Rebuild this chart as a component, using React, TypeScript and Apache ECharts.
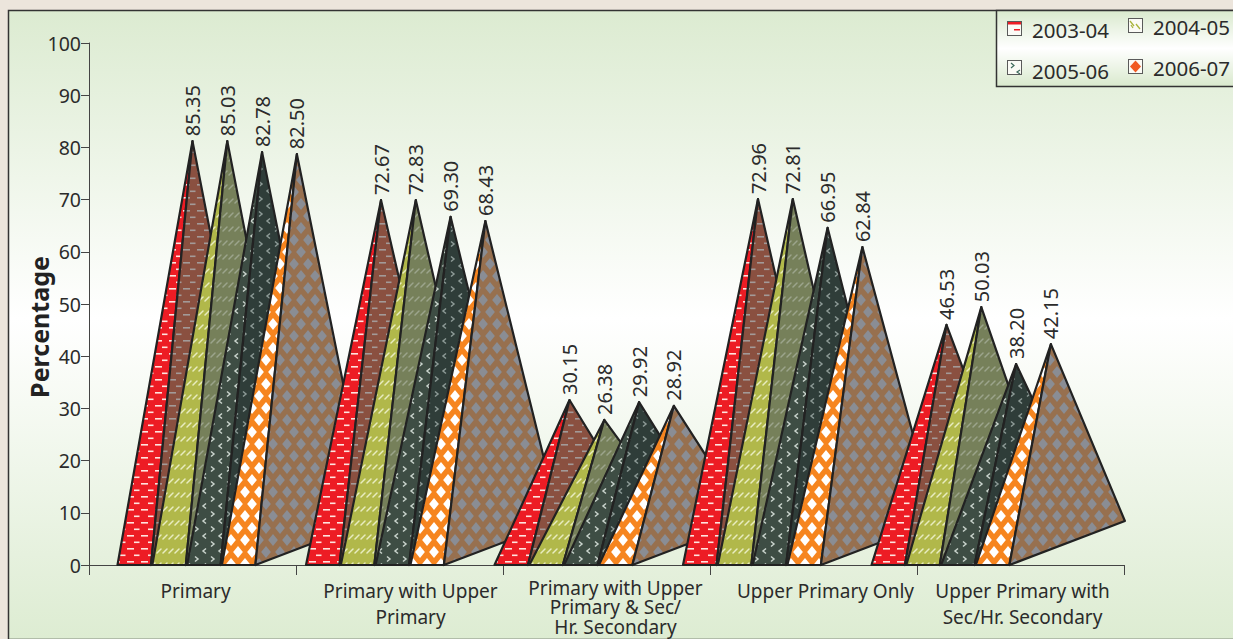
import React, { useEffect, useRef } from "react";
import * as echarts from "echarts";

const categories = [
  "Primary",
  "Primary with Upper\nPrimary",
  "Primary with Upper\nPrimary & Sec/\nHr. Secondary",
  "Upper Primary Only",
  "Upper Primary with\nSec/Hr. Secondary",
];
const labelShift = [6, 22, 18, 24, 4];
const years = ["2003-04", "2004-05", "2005-06", "2006-07"];
const yTicks = { min: 0, max: 100, interval: 10 };

// Printed values
const printed2003 = ["85.35", "72.67", "30.15", "72.96", "46.53"];
const printed2004 = ["85.03", "72.83", "26.38", "72.81", "50.03"];
const printed2005 = ["82.78", "69.30", "29.92", "66.95", "38.20"];
const printed2006 = ["82.50", "68.43", "28.92", "62.84", "42.15"];

// Apex heights as read against the axis in the picture
const apex2003 = [81.2, 69.9, 31.6, 70.1, 46.0];
const apex2004 = [81.2, 69.9, 27.8, 70.1, 49.4];
const apex2005 = [79.1, 66.7, 31.2, 64.6, 38.5];
const apex2006 = [78.7, 65.9, 30.5, 60.9, 42.3];

const printed = [printed2003, printed2004, printed2005, printed2006];
const apex = [apex2003, apex2004, apex2005, apex2006];

const FONT = '"Noto Sans", "Open Sans", sans-serif';
const INK = "#2b2b2b";

function tile(w: number, h: number, bg: string, draw: (c: CanvasRenderingContext2D) => void) {
  const cv = document.createElement("canvas");
  cv.width = w;
  cv.height = h;
  const c = cv.getContext("2d")!;
  c.fillStyle = bg;
  c.fillRect(0, 0, w, h);
  draw(c);
  return { image: cv.toDataURL(), imageWidth: w, imageHeight: h, repeat: "repeat" };
}
const dashes = (bg: string, fg: string) =>
  tile(14, 13, bg, (c) => {
    c.fillStyle = fg;
    c.fillRect(1, 2, 7, 1.6);
    c.fillRect(8, 8.5, 5.5, 1.6);
  });
const diagonals = (bg: string, fg: string) =>
  tile(12, 14, bg, (c) => {
    c.strokeStyle = fg;
    c.lineWidth = 1.5;
    c.lineCap = "round";
    c.beginPath();
    c.moveTo(1, 7);
    c.lineTo(5, 3);
    c.moveTo(7, 7);
    c.lineTo(11, 3);
    c.stroke();
  });
const chevrons = (bg: string, fg: string) =>
  tile(16, 15, bg, (c) => {
    c.strokeStyle = fg;
    c.lineWidth = 1.5;
    c.beginPath();
    c.moveTo(3, 1.5);
    c.lineTo(6, 4);
    c.lineTo(3, 6.5);
    c.moveTo(14, 8.5);
    c.lineTo(11, 11);
    c.lineTo(14, 13.5);
    c.stroke();
  });
const diamonds = (bg: string, fg: string) =>
  tile(14, 24, bg, (c) => {
    c.fillStyle = fg;
    const d = (x: number, y: number) => {
      c.beginPath();
      c.moveTo(x - 4.9, y);
      c.lineTo(x, y - 6);
      c.lineTo(x + 4.9, y);
      c.lineTo(x, y + 6);
      c.closePath();
      c.fill();
    };
    d(0, 0);
    d(14, 0);
    d(0, 24);
    d(14, 24);
    d(7, 12);
  });

function icon(draw: (c: CanvasRenderingContext2D) => void) {
  const cv = document.createElement("canvas");
  cv.width = 15;
  cv.height = 15;
  const c = cv.getContext("2d")!;
  c.fillStyle = "#fbfbf6";
  c.fillRect(0, 0, 15, 15);
  draw(c);
  c.strokeStyle = "#5a5a5a";
  c.lineWidth = 1;
  c.strokeRect(0.5, 0.5, 14, 14);
  return cv.toDataURL();
}

export default function App() {
  const ref = useRef<HTMLDivElement>(null);
  useEffect(() => {
    const chart = echarts.init(ref.current!, undefined, { renderer: "svg" });
    const fronts = [
      dashes("#ed1c24", "#ffe4df"),
      diagonals("#b1b84a", "#e8ecc0"),
      chevrons("#3e4d44", "#c9d3cc"),
      diamonds("#f6851f", "#ffffff"),
    ];
    const sides = [
      dashes("#8a5040", "#a39a98"),
      diagonals("#76805a", "#9ca48c"),
      chevrons("#2f3d39", "#8d9a96"),
      diamonds("#97704f", "#8a8d94"),
    ];
    const icons = [
      icon((c) => {
        c.fillStyle = "#ed1c24";
        c.fillRect(1, 1, 13, 2.5);
        c.fillRect(7, 8, 6, 1.5);
      }),
      icon((c) => {
        c.strokeStyle = "#a9b43c";
        c.lineWidth = 1.3;
        c.beginPath();
        c.moveTo(2, 3);
        c.lineTo(6, 8);
        c.moveTo(8, 6);
        c.lineTo(12, 11);
        c.moveTo(3, 7);
        c.lineTo(5, 10);
        c.stroke();
      }),
      icon((c) => {
        c.strokeStyle = "#3e6a5c";
        c.lineWidth = 1.2;
        c.beginPath();
        c.moveTo(4, 3);
        c.lineTo(7, 5.5);
        c.lineTo(4, 8);
        c.moveTo(13, 10);
        c.lineTo(10, 12);
        c.lineTo(13, 14);
        c.stroke();
      }),
      icon((c) => {
        c.fillStyle = "#f15a22";
        c.beginPath();
        c.moveTo(2, 7.5);
        c.lineTo(7.5, 1.5);
        c.lineTo(13, 7.5);
        c.lineTo(7.5, 13.5);
        c.closePath();
        c.fill();
      }),
    ];

    const series = years.map((name, s) => ({
      name,
      type: "custom",
      coordinateSystem: "cartesian2d",
      clip: false,
      silent: true,
      encode: { x: 0, y: 1 },
      data: categories.map((_, i) => [i, apex[s][i]]),
      renderItem: (params: any, api: any) => {
        const cat = api.value(0) as number;
        const top = api.coord([cat, api.value(1)]);
        const base = api.coord([cat, 0]);
        const rise = api.coord([cat, 8.43]);
        const left = base[0] - 75 - cat * 18.5 + s * 34.8;
        const right = left + 33.5;
        const tipX = left + 75;
        const farX = left + 149;
        const order = cat * 10 + s;
        return {
          type: "group",
          children: [
            {
              type: "polygon",
              z2: order,
              shape: { points: [[left, base[1]], [tipX, top[1]], [right, base[1]]] },
              style: { fill: fronts[s], stroke: "#222222", lineWidth: 2.2, lineJoin: "round" },
            },
            {
              type: "polygon",
              z2: order,
              shape: { points: [[right, base[1]], [tipX, top[1]], [farX, rise[1]]] },
              style: { fill: sides[s], stroke: "#222222", lineWidth: 2.2, lineJoin: "round" },
            },
            {
              type: "text",
              z2: 1000,
              x: tipX,
              y: top[1] - 5,
              rotation: Math.PI / 2,
              style: {
                text: printed[s][cat],
                font: `20px ${FONT}`,
                fill: INK,
                align: "left",
                verticalAlign: "middle",
              },
            },
          ],
        };
      },
    }));

    const legendSpots = [
      { ix: 1007, iy: 21, tx: 1032, ty: 30 },
      { ix: 1128, iy: 18, tx: 1153, ty: 27 },
      { ix: 1007, iy: 60, tx: 1032, ty: 71 },
      { ix: 1128, iy: 59, tx: 1153, ty: 68 },
    ];

    chart.setOption({
      animation: false,
      backgroundColor: "#ece5dc",
      textStyle: { fontFamily: FONT },
      graphic: [
        {
          type: "rect",
          z: -10,
          shape: { x: 8.5, y: 10.5, width: 1300, height: 629 },
          style: {
            fill: {
              type: "linear",
              x: 0,
              y: 0,
              x2: 0,
              y2: 1,
              global: false,
              colorStops: [
                { offset: 0, color: "#dcebd1" },
                { offset: 0.49, color: "#ffffff" },
                { offset: 1, color: "#ddecd2" },
              ],
            },
            stroke: "#333333",
            lineWidth: 1.5,
          },
        },
        {
          type: "rect",
          z: 20,
          shape: { x: 996.5, y: 10.5, width: 300, height: 76 },
          style: {
            fill: {
              type: "linear",
              x: 0,
              y: 0,
              x2: 0,
              y2: 1,
              global: false,
              colorStops: [
                { offset: 0, color: "#d9e9cd" },
                { offset: 0.5, color: "#ffffff" },
                { offset: 1, color: "#d9e9cd" },
              ],
            },
            stroke: "#333333",
            lineWidth: 1.5,
          },
        },
        ...years.flatMap((y, i) => [
          {
            type: "image",
            z: 21,
            style: { image: icons[i], x: legendSpots[i].ix, y: legendSpots[i].iy, width: 15, height: 15 },
          },
          {
            type: "text",
            z: 21,
            x: legendSpots[i].tx,
            y: legendSpots[i].ty,
            style: { text: y, font: `20.5px ${FONT}`, fill: INK, align: "left", verticalAlign: "middle" },
          },
        ]),
      ],
      grid: { left: 89, right: 109, top: 43, bottom: 74, containLabel: false },
      xAxis: {
        type: "category",
        data: categories,
        boundaryGap: true,
        axisLine: { show: true, lineStyle: { color: "#444444", width: 1 } },
        axisTick: { show: true, length: 10, alignWithLabel: false, lineStyle: { color: "#444444", width: 1 } },
        axisLabel: {
          interval: 0,
          margin: 13,
          color: INK,
          formatter: (v: string, i: number) => {
            const lines = v.split("\n");
            const key = lines.length === 3 ? "tight" : "wide";
            return lines.map((l) => `{${key}${i}|${l}}`).join("\n");
          },
          rich: Object.fromEntries(
            labelShift.flatMap((p, i) => [
              [`wide${i}`, { fontSize: 19, fontFamily: FONT, color: INK, lineHeight: 26, padding: [0, 0, 0, p] }],
              [`tight${i}`, { fontSize: 19, fontFamily: FONT, color: INK, lineHeight: 19.5, padding: [0, 0, 0, p] }],
            ])
          ),
        },
      },
      yAxis: {
        type: "value",
        min: yTicks.min,
        max: yTicks.max,
        interval: yTicks.interval,
        name: "Percentage",
        nameLocation: "middle",
        nameGap: 38,
        nameRotate: 90,
        nameMoveOverlap: false,
        nameTextStyle: { fontSize: 25, fontWeight: "bold", fontFamily: FONT, color: "#222222", padding: [0, 46, 0, 0] },
        axisLine: { show: true, lineStyle: { color: "#444444", width: 1 } },
        axisTick: { show: true, length: 8, lineStyle: { color: "#444444", width: 1 } },
        axisLabel: { fontSize: 19.5, fontFamily: FONT, color: INK, margin: 8 },
        splitLine: { show: false },
      },
      series,
    });
    return () => chart.dispose();
  }, []);
  return <div ref={ref} style={{ position: "fixed", left: 0, top: 0, width: 1233, height: 639 }} />;
}
